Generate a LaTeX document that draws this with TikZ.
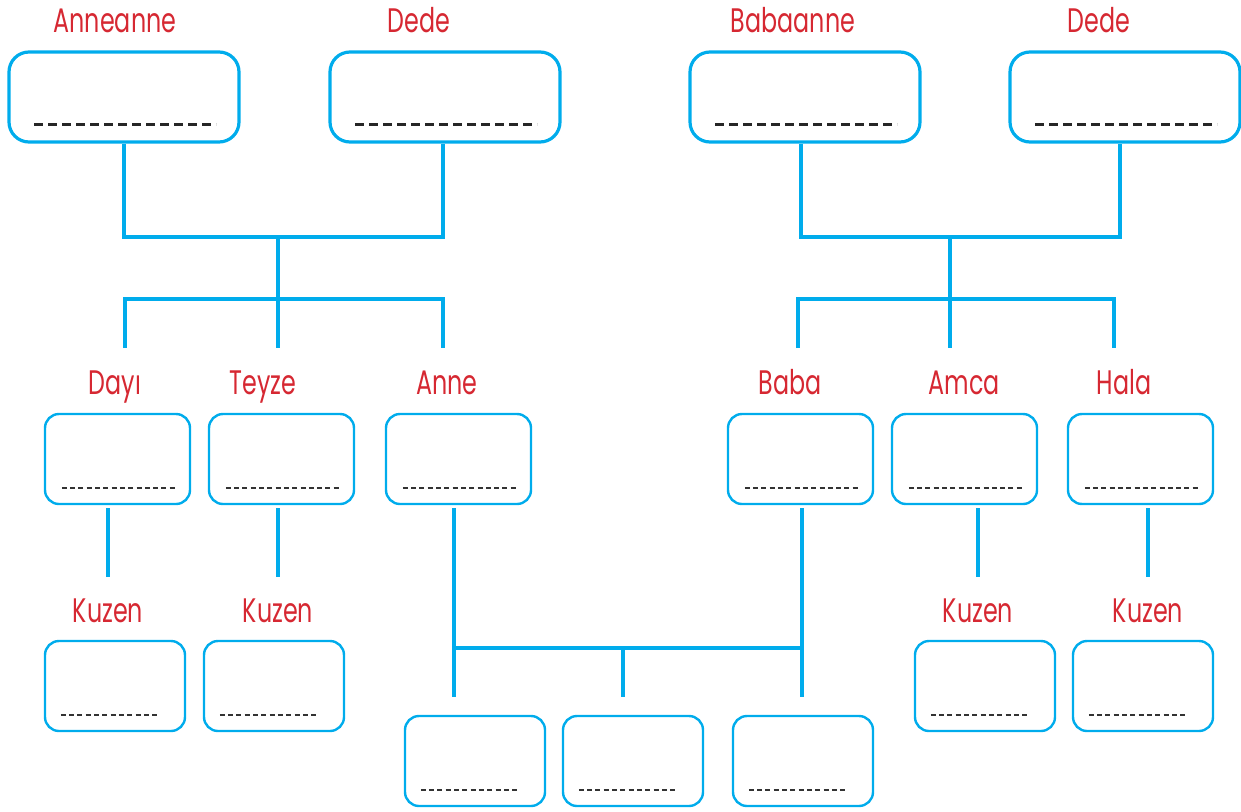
\documentclass[tikz,border=0pt]{standalone}
\usepackage{fontspec}
\setmainfont{Poppins}[FakeStretch=0.7]
\usepackage{tikz}
\usetikzlibrary{positioning}
\definecolor{treeblue}{RGB}{0,172,236}
\definecolor{namered}{RGB}{214,40,50}
\tikzset{
  bigbox/.style={draw=treeblue,line width=3.2pt,rounded corners=20pt,minimum width=230pt,minimum height=90pt,inner sep=0pt},
  smallbox/.style={draw=treeblue,line width=2.4pt,rounded corners=14pt,minimum width=145pt,minimum height=90pt,inner sep=0pt},
  kidbox/.style={smallbox,minimum width=140pt},
  lbl/.style={text=namered,font=\fontsize{34}{38}\selectfont,inner sep=0pt,anchor=base},
  link/.style={draw=treeblue,line width=3.2pt},
  bigdash/.style={line width=3pt,black!85,dash pattern=on 9pt off 5pt},
  smalldash/.style={line width=1.6pt,black!80,dash pattern=on 5pt off 3.3pt}
}
\begin{document}
\begin{tikzpicture}[x=1pt,y=-1pt]
\useasboundingbox (0,0) rectangle (1241,811);
% grandparents
\node[bigbox] (anneanne) at (124,97) {};
\node[bigbox] (dedeA) at (445,97) {};
\node[bigbox] (babaanne) at (805,97) {};
\node[bigbox] (dedeB) at (1125,97) {};
\node[lbl] (lanneanne) at (115,32) {Anneanne};
\node[lbl] (ldedeA) at (419,32) {Dede};
\node[lbl] (lbabaanne) at (793,32) {Babaanne};
\node[lbl] (ldedeB) at (1099,32) {Dede};
\foreach \b in {anneanne,dedeA,babaanne,dedeB}
  \draw[bigdash] ([xshift=27pt,yshift=19pt]\b.south west) -- ++(182,0);

% parents, uncles and aunts
\node[smallbox] (dayi) at (117.5,459) {};
\node[smallbox] (teyze) at (281.5,459) {};
\node[smallbox] (anne) at (458.5,459) {};
\node[smallbox] (baba) at (800.5,459) {};
\node[smallbox] (amca) at (964.5,459) {};
\node[smallbox] (hala) at (1140.5,459) {};
\node[lbl] (ldayi) at (115,394) {Dayı};
\node[lbl] (lteyze) at (263,394) {Teyze};
\node[lbl] (lanne) at (447,394) {Anne};
\node[lbl] (lbaba) at (790,394) {Baba};
\node[lbl] (lamca) at (964,394) {Amca};
\node[lbl] (lhala) at (1124,394) {Hala};
\foreach \b in {dayi,teyze,anne,baba,amca,hala}
  \draw[smalldash] ([xshift=18pt,yshift=17pt]\b.south west) -- ++(114,0);

% cousins
\node[kidbox] (kuzenA) at (115,686) {};
\node[kidbox] (kuzenB) at (274,686) {};
\node[kidbox] (kuzenC) at (985,686) {};
\node[kidbox] (kuzenD) at (1143,686) {};
\node[lbl] (lkuzenA) at (108,622) {Kuzen};
\node[lbl] (lkuzenB) at (278,622) {Kuzen};
\node[lbl] (lkuzenC) at (978,622) {Kuzen};
\node[lbl] (lkuzenD) at (1148,622) {Kuzen};

% children
\node[kidbox] (cocukA) at (475,761) {};
\node[kidbox] (cocukB) at (633,761) {};
\node[kidbox] (cocukC) at (803,761) {};
\foreach \b in {kuzenA,kuzenB,kuzenC,kuzenD,cocukA,cocukB,cocukC}
  \draw[smalldash] ([xshift=17pt,yshift=17pt]\b.south west) -- ++(98,0);

% mother's side
\coordinate (mj1) at (278,237);
\coordinate (mj2) at (278,299);
\coordinate (mdayi) at (125,348);
\coordinate (mteyze) at (278,348);
\coordinate (manne) at (443,348);
\draw[link] (anneanne.south) |- (mj1) -| ([xshift=-2pt]dedeA.south);
\draw[link] (mj1) -- (mj2);
\draw[link] (mdayi) |- (mj2) -| (manne);
\draw[link] (mj2) -- (mteyze);

% father's side
\coordinate (fj1) at (950,237);
\coordinate (fj2) at (950,299);
\coordinate (fbaba) at (798,348);
\coordinate (famca) at (950,348);
\coordinate (fhala) at (1114,348);
\draw[link] ([xshift=-4pt]babaanne.south) |- (fj1) -| ([xshift=-5pt]dedeB.south);
\draw[link] (fj1) -- (fj2);
\draw[link] (fbaba) |- (fj2) -| (fhala);
\draw[link] (fj2) -- (famca);

% to the cousins
\coordinate (kA1) at (108,508); \coordinate (kA2) at (108,577);
\coordinate (kB1) at (278,508); \coordinate (kB2) at (278,577);
\coordinate (kC1) at (978,508); \coordinate (kC2) at (978,577);
\coordinate (kD1) at (1148,508); \coordinate (kD2) at (1148,577);
\draw[link] (kA1) -- (kA2);
\draw[link] (kB1) -- (kB2);
\draw[link] (kC1) -- (kC2);
\draw[link] (kD1) -- (kD2);

% to the children
\coordinate (pa) at (454,508);
\coordinate (pb) at (802,508);
\coordinate (cj) at (623,648);
\coordinate (ca) at (454,697);
\coordinate (cb) at (623,697);
\coordinate (cc) at (802,697);
\draw[link] (pa) -- (ca);
\draw[link] (pb) -- (cc);
\draw[link] (pa |- cj) -- (pb |- cj);
\draw[link] (cj) -- (cb);
\end{tikzpicture}
\end{document}
